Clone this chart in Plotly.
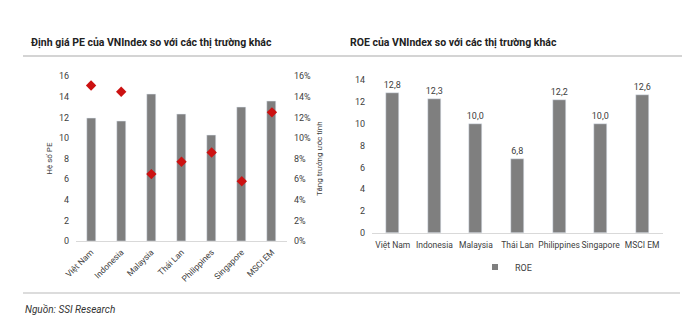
import plotly.graph_objects as go

# Markets compared in both panels
markets = ["Việt Nam", "Indonesia", "Malaysia", "Thái Lan", "Philippines", "Singapore", "MSCI EM"]

# Left panel: P/E ratio (bars) and estimated growth (diamonds, right axis)
pe_ratio = [11.9, 11.6, 14.3, 12.3, 10.3, 13.0, 13.6]
growth_est = [0.151, 0.145, 0.065, 0.077, 0.086, 0.058, 0.125]

# Right panel: ROE
roe = [12.8, 12.3, 10.0, 6.8, 12.2, 10.0, 12.6]

W, H = 700, 334
FONT = "Roboto, Liberation Sans, Arial, sans-serif"
TXT = "#404040"
BAR = "#7f7f7f"
RED = "#cc1111"


def px_x(v):
    return v / W


def px_y(v):
    return 1 - v / H


fig = go.Figure()

fig.add_trace(go.Bar(
    x=markets, y=pe_ratio, marker_color=BAR, width=0.3,
    xaxis="x", yaxis="y", showlegend=False, hoverinfo="skip",
))
fig.add_trace(go.Scatter(
    x=markets, y=growth_est, mode="markers",
    marker=dict(symbol="diamond", size=8, color=RED),
    xaxis="x", yaxis="y2", showlegend=False, hoverinfo="skip",
))
fig.add_trace(go.Bar(
    x=markets, y=roe, name="ROE", marker_color=BAR, width=0.315,
    texttemplate="%{y:.1f}", textposition="outside", constraintext="none",
    textfont=dict(family=FONT, size=9, color=TXT), cliponaxis=False,
    xaxis="x3", yaxis="y3", showlegend=False, hoverinfo="skip",
))
# Small square key for the ROE series
fig.add_trace(go.Scatter(
    x=[None], y=[None], name="ROE", mode="markers",
    marker=dict(symbol="square", size=6, color=BAR),
    xaxis="x3", yaxis="y3", showlegend=True, hoverinfo="skip",
))

tick_font = dict(family=FONT, size=9, color=TXT)
axis_title_font = dict(family=FONT, size=8, color=TXT)

fig.update_layout(
    width=W, height=H,
    margin=dict(l=0, r=0, t=0, b=0),
    paper_bgcolor="white", plot_bgcolor="white",
    separators=",.",
    font=dict(family=FONT, color=TXT),
    xaxis=dict(
        domain=[px_x(76), px_x(287)], anchor="y", automargin=False,
        range=[-0.5, 6.5], tickangle=-45, tickfont=dict(family=FONT, size=8.5, color=TXT),
        showline=True, linecolor="#d9d9d9", linewidth=1, ticklabelstandoff=2,
        ticks="", showgrid=False, zeroline=False,
    ),
    yaxis=dict(
        domain=[px_y(241), px_y(76.3)], anchor="x", automargin=False,
        range=[0, 16], dtick=2, tickfont=tick_font, ticklabelstandoff=6,
        showgrid=False, zeroline=False, ticks="",
        title=dict(text="Hệ số PE", font=axis_title_font, standoff=5),
    ),
    yaxis2=dict(
        overlaying="y", side="right", anchor="x", automargin=False,
        range=[0, 0.16], dtick=0.02, tickformat=".0%", tickfont=tick_font,
        ticklabelstandoff=6,
        showgrid=False, zeroline=False, ticks="",
        title=dict(text="Tăng trưởng ước tính", font=axis_title_font, standoff=6),
    ),
    xaxis3=dict(
        domain=[px_x(372), px_x(663)], anchor="y3", automargin=False,
        range=[-0.5, 6.5], tickangle=0, tickfont=dict(family=FONT, size=8.5, color=TXT),
        showline=True, linecolor="#d9d9d9", linewidth=1, ticklabelstandoff=4,
        ticks="", showgrid=False, zeroline=False,
    ),
    yaxis3=dict(
        domain=[px_y(233), px_y(80)], anchor="x3", automargin=False,
        range=[0, 14], dtick=2, tickfont=tick_font, ticklabelstandoff=6,
        showgrid=False, zeroline=False, ticks="",
    ),
    legend=dict(
        x=px_x(506), y=px_y(267), xanchor="center", yanchor="middle",
        font=dict(family=FONT, size=9, color=TXT), orientation="h",
        itemwidth=30,
    ),
    bargap=0,
)

# Panel titles
fig.add_annotation(
    text="<b>Định giá PE của VNIndex so với các thị trường khác</b>",
    x=px_x(29), y=px_y(43), xref="paper", yref="paper",
    xanchor="left", yanchor="middle", showarrow=False,
    font=dict(family=FONT, size=10.5, color="#222222"),
)
fig.add_annotation(
    text="<b>ROE của VNIndex so với các thị trường khác</b>",
    x=px_x(348), y=px_y(43), xref="paper", yref="paper",
    xanchor="left", yanchor="middle", showarrow=False,
    font=dict(family=FONT, size=10.5, color="#222222"),
)

# Source note
fig.add_annotation(
    text="<i>Nguồn: SSI Research</i>",
    x=px_x(23), y=px_y(309), xref="paper", yref="paper",
    xanchor="left", yanchor="middle", showarrow=False,
    font=dict(family=FONT, size=10, color="#333333"),
)

# Separator rules
fig.add_shape(type="line", xref="paper", yref="paper",
              x0=px_x(23), x1=px_x(682), y0=px_y(56), y1=px_y(56),
              line=dict(color="#d4d4d4", width=2))
fig.add_shape(type="line", xref="paper", yref="paper",
              x0=px_x(23), x1=px_x(680), y0=px_y(293), y1=px_y(293),
              line=dict(color="#dcdcdc", width=2))

fig.write_html("out.html")
